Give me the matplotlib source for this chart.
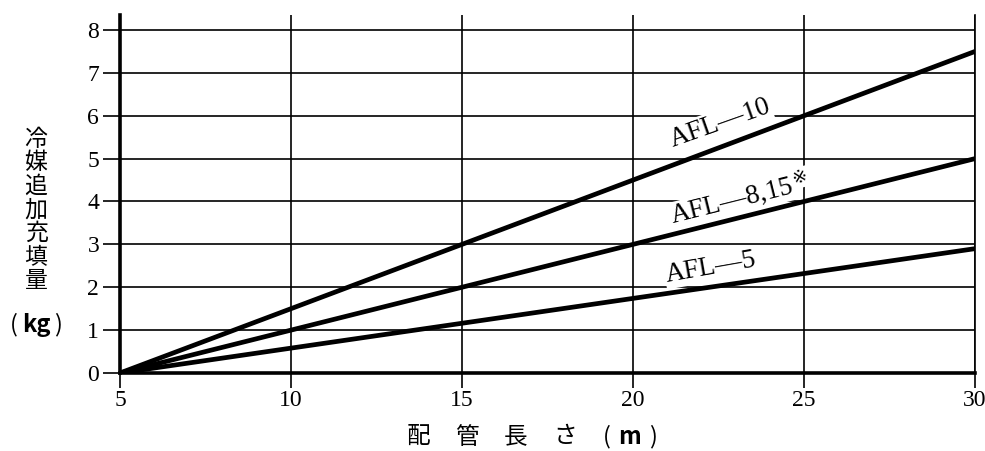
import matplotlib
matplotlib.use("Agg")
import math
import matplotlib.pyplot as plt
from matplotlib import transforms

# Data
pipe_length = [5, 30]
series_names = ["AFL—10", "AFL—8,15", "AFL—5"]
series_marks = ["", "※", ""]
series_values = [[0, 7.5], [0, 5.0], [0, 2.9]]
label_pos = [(21.15, 5.27), (21.15, 3.50), (21.0, 2.12)]
label_rot = [19.5, 14.0, 10.0]
xticks = [5, 10, 15, 20, 25, 30]
yticks = [0, 1, 2, 3, 4, 5, 6, 7, 8]
ylabel_chars = ["冷", "媒", "追", "加", "充", "填", "量"]
ylabel_unit = "kg"
xlabel_chars = ["配", "管", "長", "さ"]
xlabel_unit = "m"

serif = ["Liberation Serif", "DejaVu Serif"]
cjk = ["Noto Sans CJK JP", "DejaVu Sans"]

fig = plt.figure(figsize=(9.85, 4.51), dpi=100)
ax = fig.add_axes([120/985, 1-373/451, (975-120)/985, (373-15)/451])

ax.set_xlim(5, 30)
ax.set_ylim(0, 8 + 15/42.9)

# grid
for y in yticks[1:]:
    ax.axhline(y, color="black", lw=1.2, zorder=1)
for x in xticks[1:]:
    ax.axvline(x, color="black", lw=1.2, zorder=1)

for vals in series_values:
    ax.plot(pipe_length, vals, color="black", lw=3.4, solid_capstyle="butt", zorder=3)

LABEL_FS = 19.5
fig.canvas.draw()
renderer = fig.canvas.get_renderer()
for name, mark, (lx, ly), rot in zip(series_names, series_marks, label_pos, label_rot):
    ax.text(lx, ly, name, family=serif, fontsize=LABEL_FS,
            rotation=rot, rotation_mode="anchor", ha="left", va="baseline",
            bbox=dict(facecolor="white", edgecolor="none", pad=1), zorder=2)
    if mark:
        tmp = ax.text(0, 0, name, family=serif, fontsize=LABEL_FS)
        w_px = tmp.get_window_extent(renderer).width
        tmp.remove()
        th = math.radians(rot)
        w_pt = w_px * 72 / fig.dpi + 1
        up = 6
        dx = w_pt * math.cos(th) - up * math.sin(th)
        dy = w_pt * math.sin(th) + up * math.cos(th)
        tr = transforms.offset_copy(ax.transData, fig=fig, x=dx, y=dy, units="points")
        ax.text(lx, ly, mark, family=["DejaVu Sans"], fontsize=13, transform=tr,
                rotation=rot, rotation_mode="anchor", ha="left", va="baseline",
                bbox=dict(facecolor="white", edgecolor="none", pad=1), zorder=2)

ax.spines["top"].set_visible(False)
ax.spines["left"].set_linewidth(2.6)
ax.spines["bottom"].set_linewidth(2.6)
ax.spines["right"].set_linewidth(1.2)

ax.set_xticks(xticks)
ax.set_yticks(yticks)
ax.set_xticklabels([str(v) for v in xticks], family=serif, fontsize=17)
ax.set_yticklabels([str(v) for v in yticks], family=serif, fontsize=17)
ax.tick_params(axis="x", direction="out", length=11, width=1.2, pad=1)
ax.tick_params(axis="y", direction="out", length=12, width=1.2, pad=3)

# y label (vertical stacked characters)
fig.text(36/985, 1-210/451, "\n".join(ylabel_chars), family=cjk, fontsize=16.5,
         ha="center", va="center", linespacing=1.03)
fig.text(14/985, 1-325/451, "(", family=cjk, fontsize=17, ha="center", va="center")
fig.text(36/985, 1-325/451, ylabel_unit, family=cjk, fontsize=17, fontweight="bold",
         ha="center", va="center")
fig.text(58/985, 1-325/451, ")", family=cjk, fontsize=17, ha="center", va="center")

# x label
for i, ch in enumerate(xlabel_chars):
    fig.text((418 + 49*i)/985, 1-437/451, ch, family=cjk, fontsize=17,
             ha="center", va="center")
fig.text(607/985, 1-437/451, "(", family=cjk, fontsize=17, ha="center", va="center")
fig.text(630/985, 1-437/451, xlabel_unit, family=cjk, fontsize=17, fontweight="bold",
         ha="center", va="center")
fig.text(653/985, 1-437/451, ")", family=cjk, fontsize=17, ha="center", va="center")

fig.savefig("out.png", dpi=100)
